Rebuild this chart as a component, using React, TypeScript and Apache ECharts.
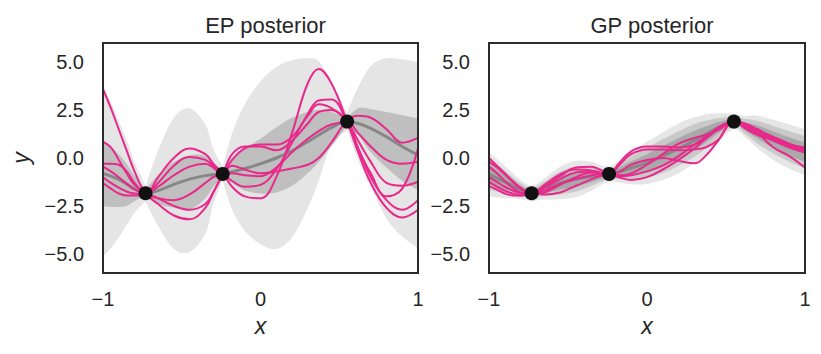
import React, { useEffect, useRef } from "react";
import * as echarts from "echarts";

// shared x grid (includes the three observation locations)
const xs = [-1, -0.95, -0.9, -0.85, -0.8, -0.73, -0.65, -0.55, -0.45, -0.35, -0.3, -0.24, -0.18, -0.1, 0, 0.1, 0.2, 0.3, 0.37, 0.45, 0.55, 0.62, 0.7, 0.8, 0.9, 1.0];

const obsX = [-0.73, -0.24, 0.55];
const obsY = [-1.84, -0.83, 1.9];

// EP posterior
const epMean = [-0.8, -0.95, -1.12, -1.35, -1.6, -1.84, -1.7, -1.38, -1.1, -0.92, -0.88, -0.83, -0.72, -0.55, -0.3, 0.0, 0.38, 0.85, 1.2, 1.58, 1.9, 1.8, 1.55, 1.1, 0.6, 0.15];
const epOuterHi = [3.6, 2.9, 1.95, 0.95, -0.2, -1.45, 0.4, 2.1, 2.6, 1.75, 0.5, -0.45, 1.3, 2.8, 4.0, 4.75, 5.1, 5.2, 5.05, 3.9, 2.35, 3.7, 4.8, 5.2, 5.15, 5.0];
const epOuterLo = [-5.15, -4.7, -4.15, -3.5, -2.85, -2.25, -3.55, -4.75, -4.9, -3.95, -2.4, -1.2, -2.7, -3.8, -4.5, -4.75, -4.15, -2.6, -1.2, 0.7, 1.45, -0.1, -1.5, -3.15, -4.1, -4.7];
const epInnerHi = [0.94, 0.6, 0.2, -0.3, -0.9, -1.65, -0.9, -0.2, 0.15, 0.1, -0.4, -0.65, 0.0, 0.5, 1.0, 1.6, 2.1, 2.4, 2.5, 2.4, 2.1, 2.6, 2.55, 2.4, 2.25, 2.07];
const epInnerLo = [-2.5, -2.55, -2.55, -2.5, -2.25, -2.0, -2.4, -2.6, -2.7, -2.1, -1.5, -1.0, -1.3, -1.7, -1.85, -1.8, -1.45, -0.8, -0.2, 0.6, 1.7, 1.2, 0.3, -0.5, -1.2, -1.67];
const epSample1 = [3.6, 2.6, 1.5, 0.4, -0.7, -1.85, -2.4, -3.0, -3.2, -2.6, -1.8, -0.84, -0.1, 0.5, 0.7, 0.7, 1.1, 2.2, 2.8, 2.6, 1.92, 0.5, -0.8, -2.0, -1.6, 0.5];
const epSample2 = [0.85, 0.55, -0.1, -0.8, -1.4, -1.8, -2.1, -2.5, -2.7, -2.4, -1.8, -0.86, 0.2, 0.6, 0.6, 0.4, 0.9, 1.8, 2.4, 2.5, 1.88, 0.9, -0.2, -1.3, -1.45, -1.24];
const epSample3 = [-0.3, -0.3, -0.35, -0.7, -1.3, -1.88, -2.1, -2.2, -1.9, -1.3, -1.0, -0.82, -0.4, -0.6, -0.8, -0.7, -0.55, -0.35, 0.0, 0.8, 1.95, 2.2, 2.1, 1.5, 0.8, 1.05];
const epSample4 = [-0.45, -0.7, -1.0, -1.35, -1.65, -1.82, -1.5, -0.9, -0.45, -0.3, -0.5, -0.86, -0.8, -0.9, -0.95, -0.5, 0.3, 1.0, 1.4, 1.75, 1.86, 1.3, 0.6, -0.1, -0.3, -0.2];
const epSample5 = [-1.0, -1.3, -1.55, -1.75, -1.85, -1.86, -1.3, -0.4, 0.05, -0.1, -0.4, -0.8, -1.2, -1.5, -1.4, -0.6, 0.8, 2.3, 3.0, 3.05, 1.85, 0.5, -1.0, -2.2, -2.7, -2.2];
const epSample6 = [-1.3, -1.6, -1.85, -1.95, -1.95, -1.9, -1.0, 0.0, 0.5, 0.2, -0.3, -0.8, -1.5, -2.0, -2.1, -1.0, 1.3, 3.9, 4.65, 3.9, 1.9, 0.3, -1.3, -2.6, -3.1, -2.7];

// GP posterior
const gpMean = [-0.85, -1.05, -1.25, -1.45, -1.65, -1.84, -1.62, -1.3, -1.1, -0.95, -0.9, -0.84, -0.72, -0.52, -0.25, 0.1, 0.5, 0.92, 1.22, 1.58, 1.9, 1.65, 1.35, 0.95, 0.6, 0.3];
const gpOuterHalf = [1.15, 1.0, 0.85, 0.65, 0.5, 0.4, 0.55, 0.85, 0.95, 0.75, 0.55, 0.4, 0.55, 0.85, 1.1, 1.25, 1.3, 1.2, 1.05, 0.75, 0.4, 0.55, 0.85, 1.05, 1.15, 1.2];
const gpMidHalf = [0.8, 0.7, 0.6, 0.45, 0.35, 0.25, 0.38, 0.6, 0.65, 0.5, 0.38, 0.25, 0.38, 0.6, 0.78, 0.88, 0.9, 0.85, 0.72, 0.5, 0.25, 0.38, 0.6, 0.72, 0.8, 0.85];
const gpInnerHalf = [0.5, 0.45, 0.38, 0.28, 0.2, 0.12, 0.22, 0.35, 0.4, 0.3, 0.22, 0.12, 0.22, 0.35, 0.45, 0.52, 0.55, 0.5, 0.42, 0.3, 0.12, 0.22, 0.35, 0.43, 0.48, 0.5];
const gpSample1 = [0.0, -0.4, -0.8, -1.2, -1.55, -1.84, -1.5, -0.95, -0.5, -0.45, -0.6, -0.84, -0.3, 0.35, 0.6, 0.6, 0.55, 0.7, 1.0, 1.5, 1.9, 1.7, 1.35, 1.0, 0.7, 0.55];
const gpSample2 = [-0.2, -0.5, -0.85, -1.25, -1.6, -1.84, -1.4, -0.85, -0.6, -0.65, -0.75, -0.84, -0.4, 0.2, 0.45, 0.45, 0.4, 0.45, 0.55, 0.95, 1.9, 1.75, 1.45, 1.1, 0.75, 0.4];
const gpSample3 = [-0.45, -0.8, -1.2, -1.55, -1.8, -1.84, -1.55, -1.1, -0.75, -0.7, -0.78, -0.84, -0.75, -0.35, -0.1, 0.0, -0.15, -0.28, 0.1, 0.9, 1.9, 1.7, 1.3, 0.55, 0.1, -0.5];
const gpSample4 = [-1.0, -1.25, -1.5, -1.7, -1.85, -1.9, -1.8, -1.4, -1.0, -0.75, -0.8, -0.84, -0.95, -0.9, -0.7, -0.4, 0.1, 0.7, 1.1, 1.55, 1.9, 1.8, 1.5, 1.05, 0.65, 0.35];
const gpSample5 = [-1.25, -1.5, -1.7, -1.85, -1.95, -1.9, -1.7, -1.35, -1.1, -0.9, -0.85, -0.84, -1.0, -1.15, -1.0, -0.6, -0.1, 0.5, 1.0, 1.6, 1.9, 1.6, 1.25, 0.9, 0.55, 0.3];
const gpSample6 = [-1.45, -1.65, -1.85, -1.95, -1.95, -1.8, -1.9, -1.8, -1.45, -1.1, -0.95, -0.84, -0.9, -0.8, -0.35, 0.2, 0.75, 1.05, 1.2, 1.45, 1.9, 1.55, 1.2, 0.95, 0.7, 0.45];

const yTicks = [-5, -2.5, 0, 2.5, 5];
const xTicks = [-1, 0, 1];
const titles = ["EP posterior", "GP posterior"];

const FONT = "'Liberation Sans', Arial, Helvetica, sans-serif";
const TEXT = "#262626";
const PINK = "#e8298b";
const SMOOTH = 0.4;

const minus = (s: string) => s.replace("-", "\u2212");

// indices of the grid that sit on observations (band edges get a corner there)
const pinchIdx = obsX.map((ox) => xs.indexOf(ox));

// Catmull-Rom spline through pixel points, split into pieces at corner indices
function splineCmds(pts: number[][], corners: number[]): string {
  let d = "";
  const n = pts.length;
  const cuts = [0, ...corners.filter((c) => c > 0 && c < n - 1).sort((a, b) => a - b), n - 1];
  for (let s = 0; s < cuts.length - 1; s++) {
    const a = cuts[s];
    const b = cuts[s + 1];
    for (let i = a; i < b; i++) {
      const p0 = pts[Math.max(a, i - 1)];
      const p1 = pts[i];
      const p2 = pts[i + 1];
      const p3 = pts[Math.min(b, i + 2)];
      const c1x = p1[0] + (p2[0] - p0[0]) / 6;
      const c1y = p1[1] + (p2[1] - p0[1]) / 6;
      const c2x = p2[0] - (p3[0] - p1[0]) / 6;
      const c2y = p2[1] - (p3[1] - p1[1]) / 6;
      d += ` C ${c1x} ${c1y} ${c2x} ${c2y} ${p2[0]} ${p2[1]}`;
    }
  }
  return d;
}

function bandSeries(g: number, lo: number[], hi: number[], color: string, sharp: boolean) {
  const n = xs.length;
  const cornersTop = sharp ? pinchIdx : [];
  const cornersBot = sharp ? pinchIdx.map((c) => n - 1 - c) : [];
  return {
    type: "custom",
    xAxisIndex: g,
    yAxisIndex: g,
    silent: true,
    clip: true,
    data: [0],
    renderItem: (_params: any, api: any) => {
      const top = xs.map((x, i) => api.coord([x, hi[i]]));
      const bot = xs.map((x, i) => api.coord([x, lo[i]])).reverse();
      const d =
        `M ${top[0][0]} ${top[0][1]}` +
        splineCmds(top, cornersTop) +
        ` L ${bot[0][0]} ${bot[0][1]}` +
        splineCmds(bot, cornersBot) +
        " Z";
      return { type: "path", shape: { pathData: d }, style: { fill: color, stroke: "none" } };
    },
  };
}

function lineSeries(g: number, ys: number[], color: string, width: number) {
  return {
    type: "line",
    xAxisIndex: g,
    yAxisIndex: g,
    data: xs.map((x, i) => [x, ys[i]]),
    symbol: "none",
    smooth: SMOOTH,
    silent: true,
    lineStyle: { color, width },
  };
}

function pointSeries(g: number) {
  return {
    type: "scatter",
    xAxisIndex: g,
    yAxisIndex: g,
    data: obsX.map((x, i) => [x, obsY[i]]),
    symbol: "circle",
    symbolSize: 14,
    itemStyle: { color: "#111111", opacity: 1 },
    z: 5,
  };
}

const grids = [
  { left: 103, top: 43, width: 315, height: 230 },
  { left: 489, top: 43, width: 316, height: 230 },
];

function buildOption() {
  const epSamples = [epSample1, epSample2, epSample3, epSample4, epSample5, epSample6];
  const gpSamples = [gpSample1, gpSample2, gpSample3, gpSample4, gpSample5, gpSample6];
  const gpBand = (half: number[], color: string) =>
    bandSeries(
      1,
      gpMean.map((m, i) => m - half[i]),
      gpMean.map((m, i) => m + half[i]),
      color,
      false
    );
  const series: any[] = [
    bandSeries(0, epOuterLo, epOuterHi, "#e5e5e5", true),
    bandSeries(0, epInnerLo, epInnerHi, "#bfbfbf", true),
    lineSeries(0, epMean, "#878787", 3),
    ...epSamples.map((s) => lineSeries(0, s, PINK, 2)),
    pointSeries(0),
    gpBand(gpOuterHalf, "#e6e6e6"),
    gpBand(gpMidHalf, "#c9c9c9"),
    gpBand(gpInnerHalf, "#a9a9a9"),
    lineSeries(1, gpMean, "#878787", 3),
    ...gpSamples.map((s) => lineSeries(1, s, PINK, 2)),
    pointSeries(1),
  ];
  return {
    animation: false,
    backgroundColor: "#ffffff",
    title: grids.map((g, i) => ({
      text: titles[i],
      left: g.left + g.width / 2,
      top: 9,
      textAlign: "center",
      textStyle: { fontFamily: FONT, fontSize: 22, fontWeight: "normal", color: TEXT },
    })),
    grid: grids.map((g) => ({
      ...g,
      show: true,
      z: 10,
      borderColor: "#2b2b2b",
      borderWidth: 2,
      backgroundColor: "transparent",
    })),
    xAxis: grids.map((_, i) => ({
      gridIndex: i,
      type: "value",
      min: -1,
      max: 1,
      interval: 1,
      axisLine: { show: false },
      axisTick: { show: false },
      splitLine: { show: false },
      axisLabel: {
        customValues: xTicks,
        fontFamily: FONT,
        fontSize: 20,
        color: TEXT,
        margin: 16,
        formatter: (v: number) => minus(String(v)),
      },
      name: "x",
      nameLocation: "middle",
      nameGap: 41,
      nameTextStyle: { fontFamily: FONT, fontSize: 23, fontStyle: "italic", color: TEXT },
    })),
    yAxis: grids.map((_, i) => ({
      gridIndex: i,
      type: "value",
      min: -6,
      max: 6,
      axisLine: { show: false },
      axisTick: { show: false },
      splitLine: { show: false },
      axisLabel: {
        customValues: yTicks,
        fontFamily: FONT,
        fontSize: 20,
        color: TEXT,
        margin: 19,
        formatter: (v: number) => minus(v.toFixed(1)),
      },
      name: i === 0 ? "y" : "",
      nameLocation: "middle",
      nameGap: 71,
      nameRotate: 90,
      nameTextStyle: { fontFamily: FONT, fontSize: 23, fontStyle: "italic", color: TEXT },
    })),
    series,
  };
}

export default function App() {
  const ref = useRef<HTMLDivElement>(null);
  useEffect(() => {
    const chart = echarts.init(ref.current as HTMLDivElement, null, { renderer: "svg" });
    chart.setOption(buildOption() as any);
    return () => chart.dispose();
  }, []);
  return (
    <div
      ref={ref}
      style={{ position: "fixed", left: 0, top: 0, width: 821, height: 354, background: "#fff" }}
    />
  );
}
